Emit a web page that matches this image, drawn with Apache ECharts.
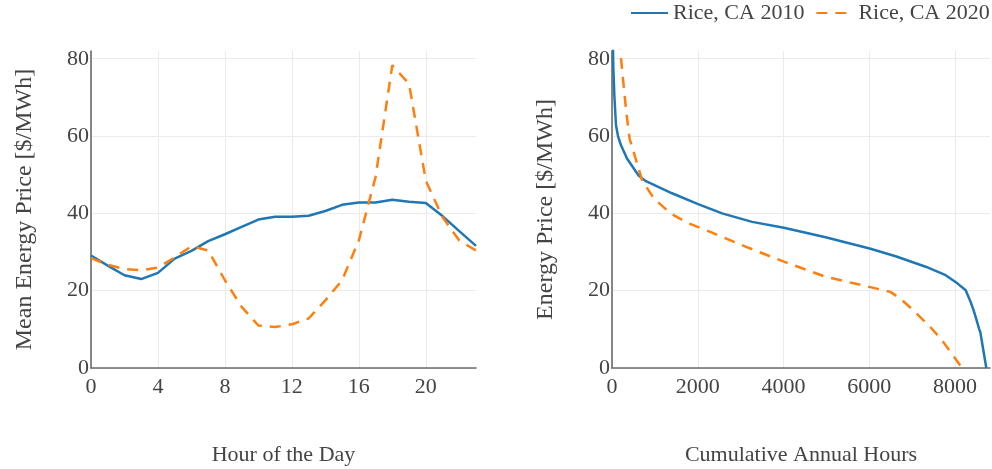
<!DOCTYPE html>
<html><head><meta charset="utf-8">
<script src="https://cdn.jsdelivr.net/npm/echarts@6/dist/echarts.min.js"></script>
<style>html,body{margin:0;padding:0;background:#fff}#c{width:992px;height:469px}</style>
</head><body><div id="c"></div>
<script>
// ---- data ----
const seriesNames = ['Rice, CA 2010', 'Rice, CA 2020'];
const hours = [0,1,2,3,4,5,6,7,8,9,10,11,12,13,14,15,16,17,18,19,20,21,22,23];
const hourlyPrice2010 = [29.1,26.5,24.0,23.0,24.6,28.3,30.3,32.8,34.6,36.5,38.4,39.1,39.1,39.4,40.6,42.2,42.8,42.8,43.5,43.0,42.7,39.3,35.4,31.6];
const hourlyPrice2020 = [28.4,26.7,25.6,25.3,26.0,28.6,31.5,30.4,22.7,15.8,11.0,10.6,11.3,12.8,17.5,22.7,33.0,49.4,78.3,73.5,48.5,39.0,33.0,30.4];
const durationHours2010 = [10,30,55,93,140,210,350,620,778,1401,2008,2568,3268,4008,4981,6008,6615,7315,7782,8054,8249,8360,8435,8500,8560,8590,8730];
const durationPrice2010 = [92,78,70.5,62.8,60.0,57.6,54.2,49.8,48.4,45.2,42.4,40.0,37.8,36.3,33.8,30.9,28.9,26.2,24.0,21.9,20.1,17.2,14.9,12.5,10.2,9.3,0];
const durationHours2020 = [170,193,255,333,411,598,700,973,1362,1790,2335,3113,4008,4981,6148,6490,6718,7033,7423,7696,8060,8130];
const durationPrice2020 = [90,82.2,74.9,66.2,59.3,52.4,48.6,43.9,40.0,37.4,35.0,31.4,27.5,23.6,20.6,19.7,18.0,14.9,10.6,7.2,1.6,0.5];
const xTitles = ['Hour of the Day', 'Cumulative Annual Hours'];
const yTitles = ['Mean Energy Price [$/MWh]', 'Energy Price [$/MWh]'];

// ---- styling ----
const FONT = '"Liberation Serif","Times New Roman",serif';
const TXT = '#444';
const BLUE = '#1f77b4', ORANGE = '#ff7f0e';
const zip = (a, b) => a.map((v, i) => [v, b[i]]);

function xAxis(idx, max, interval) {
  return {
    type: 'value', gridIndex: idx, min: 0, max: max, interval: interval,
    name: xTitles[idx], nameLocation: 'middle', nameGap: 76,
    nameTextStyle: {fontFamily: FONT, fontSize: 22, color: TXT},
    axisLine: {show: true, onZero: false, lineStyle: {color: '#6b6b6b', width: 1.6}},
    axisTick: {show: false},
    axisLabel: {fontFamily: FONT, fontSize: 22, color: TXT, margin: 8, showMaxLabel: false,
                formatter: v => String(v)},
    splitLine: {show: true, showMaxLine: false, lineStyle: {color: '#ebebeb', width: 1}}
  };
}
function yAxis(idx) {
  return {
    type: 'value', gridIndex: idx, min: 0, max: 82, interval: 20,
    name: yTitles[idx], nameLocation: 'middle', nameGap: 54, nameRotate: 90,
    nameTextStyle: {fontFamily: FONT, fontSize: 24, color: TXT},
    axisLine: {show: true, onZero: false, lineStyle: {color: '#6b6b6b', width: 1.6}},
    axisTick: {show: false},
    axisLabel: {fontFamily: FONT, fontSize: 22, color: TXT, margin: 2, showMaxLabel: false},
    splitLine: {show: true, showMaxLine: false, lineStyle: {color: '#ebebeb', width: 1}}
  };
}
function line(name, data, xi, color, dashed) {
  return {
    name: name, type: 'line', xAxisIndex: xi, yAxisIndex: xi, data: data,
    symbol: 'none', showSymbol: false, clip: true, animation: false,
    lineStyle: {color: color, width: 2.5, type: dashed ? [11, 8] : 'solid'},
    itemStyle: {color: color}
  };
}

const chart = echarts.init(document.getElementById('c'), null, {renderer: 'canvas'});
chart.setOption({
  animation: false,
  textStyle: {fontFamily: FONT},
  legend: {
    data: seriesNames, orient: 'horizontal', top: 2, left: 630, width: 400, padding: 0,
    itemWidth: 37, itemHeight: 22, itemGap: 11,
    itemStyle: {opacity: 0, borderWidth: 0},
    textStyle: {fontFamily: FONT, fontSize: 22, color: TXT}
  },
  grid: [
    {left: 91, top: 51, width: 385, height: 317, containLabel: false, outerBoundsMode: 'none'},
    {left: 612, top: 51, width: 378, height: 317, containLabel: false, outerBoundsMode: 'none'}
  ],
  xAxis: [xAxis(0, 23, 4), xAxis(1, 8816, 2000)],
  yAxis: [yAxis(0), yAxis(1)],
  series: [
    line(seriesNames[0], zip(hours, hourlyPrice2010), 0, BLUE, false),
    line(seriesNames[1], zip(hours, hourlyPrice2020), 0, ORANGE, true),
    line(seriesNames[0], zip(durationHours2010, durationPrice2010), 1, BLUE, false),
    line(seriesNames[1], zip(durationHours2020, durationPrice2020), 1, ORANGE, true)
  ]
});
</script></body></html>
